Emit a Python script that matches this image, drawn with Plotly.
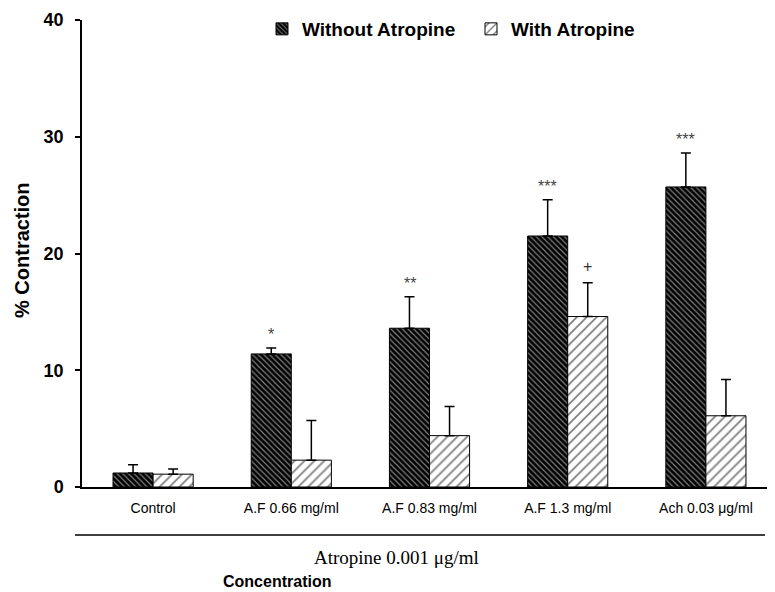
import plotly.graph_objects as go

categories = ["Control", "A.F 0.66 mg/ml", "A.F 0.83 mg/ml", "A.F 1.3 mg/ml", "Ach 0.03 μg/ml"]
without_vals = [1.2, 11.4, 13.6, 21.5, 25.7]
without_err = [0.7, 0.5, 2.7, 3.1, 2.9]
with_vals = [1.1, 2.3, 4.4, 14.6, 6.1]
with_err = [0.45, 3.4, 2.5, 2.9, 3.1]
sig_without = ["", "*", "**", "***", "***"]
sig_with = ["", "", "", "+", ""]
y_ticks = [0, 10, 20, 30, 40]

# page body has an 8px margin; figure is sized/margined to compensate
OFF = 8
fig = go.Figure()
fig.add_trace(go.Bar(
    name="Without Atropine", x=categories, y=without_vals,
    marker=dict(color="black", line=dict(color="black", width=1),
                pattern=dict(shape="\\", fgcolor="white", bgcolor="black", size=4, solidity=0.3)),
    error_y=dict(type="data", array=without_err, arrayminus=[0]*len(without_err),
                 color="black", thickness=1.5, width=5),
))
fig.add_trace(go.Bar(
    name="With Atropine", x=categories, y=with_vals,
    marker=dict(color="white", line=dict(color="black", width=1),
                pattern=dict(shape="/", fgcolor="black", bgcolor="white", size=7, solidity=0.25)),
    error_y=dict(type="data", array=with_err, arrayminus=[0]*len(with_err),
                 color="black", thickness=1.5, width=5),
))

annotations = []
for i, c in enumerate(categories):
    if sig_without[i]:
        annotations.append(dict(x=c, y=without_vals[i] + without_err[i], text=sig_without[i],
                                xref="x", yref="y", showarrow=False, yanchor="bottom",
                                xshift=-20, yshift=3, font=dict(size=16, color="#444")))
    if sig_with[i]:
        annotations.append(dict(x=c, y=with_vals[i] + with_err[i], text=sig_with[i],
                                xref="x", yref="y", showarrow=False, yanchor="bottom",
                                xshift=20, yshift=6, font=dict(size=16, color="#333")))

H = 467.0
W = 691.0
annotations.append(dict(x=(396 - 82) / W, y=(487 - 557) / H, xref="paper", yref="paper",
                        xanchor="center", yanchor="middle",
                        text="Atropine 0.001 μg/ml", showarrow=False,
                        font=dict(family="Liberation Serif, Times New Roman, serif", size=19, color="black")))
annotations.append(dict(x=(277 - 82) / W, y=(487 - 581) / H, xref="paper", yref="paper",
                        xanchor="center", yanchor="middle",
                        text="<b>Concentration</b>", showarrow=False,
                        font=dict(family="Liberation Sans, Arial, sans-serif", size=16, color="black")))
annotations.append(dict(x=(9 - 82) / W, y=(487 - 250) / H, xref="paper", yref="paper",
                        xanchor="left", yanchor="middle", textangle=-90,
                        text="<b>% Contraction</b>", showarrow=False,
                        font=dict(family="Liberation Sans, Arial, sans-serif", size=20, color="black")))

fig.add_shape(type="line", xref="paper", yref="paper",
              x0=(75 - 82) / W, x1=(765 - 82) / W, y0=(487 - 535) / H, y1=(487 - 535) / H,
              line=dict(color="black", width=1.5))

fig.update_layout(
    width=775 - OFF, height=592 - OFF,
    margin=dict(l=82 - OFF, r=2, t=20 - OFF, b=105),
    paper_bgcolor="white", plot_bgcolor="white",
    barmode="group", bargap=0.42, bargroupgap=0,
    font=dict(family="Liberation Sans, Arial, sans-serif", color="black"),
    showlegend=True,
    legend=dict(orientation="h", x=(262 - 82) / W, y=1 + 10 / H, xanchor="left", yanchor="top",
                font=dict(size=19, color="black", weight="bold"),
                bgcolor="rgba(0,0,0,0)", traceorder="normal", itemwidth=30,
                entrywidth=164, entrywidthmode="pixels"),
    annotations=annotations,
    yaxis=dict(range=[0, 40], tickvals=y_ticks, showgrid=False, zeroline=False,
               showline=True, linecolor="black", linewidth=1.5, automargin=False,
               ticks="outside", ticklen=5, tickcolor="black", tickwidth=1.5,
               ticklabelstandoff=8,
               tickfont=dict(size=18, color="black", weight="bold")),
    xaxis=dict(range=[-0.5145, 4.4855], showgrid=False, zeroline=False, automargin=False,
               showline=True, linecolor="black", linewidth=1.5, ticks="",
               ticklabelstandoff=7,
               tickfont=dict(size=14, color="black")),
)

fig.write_html("out.html")
